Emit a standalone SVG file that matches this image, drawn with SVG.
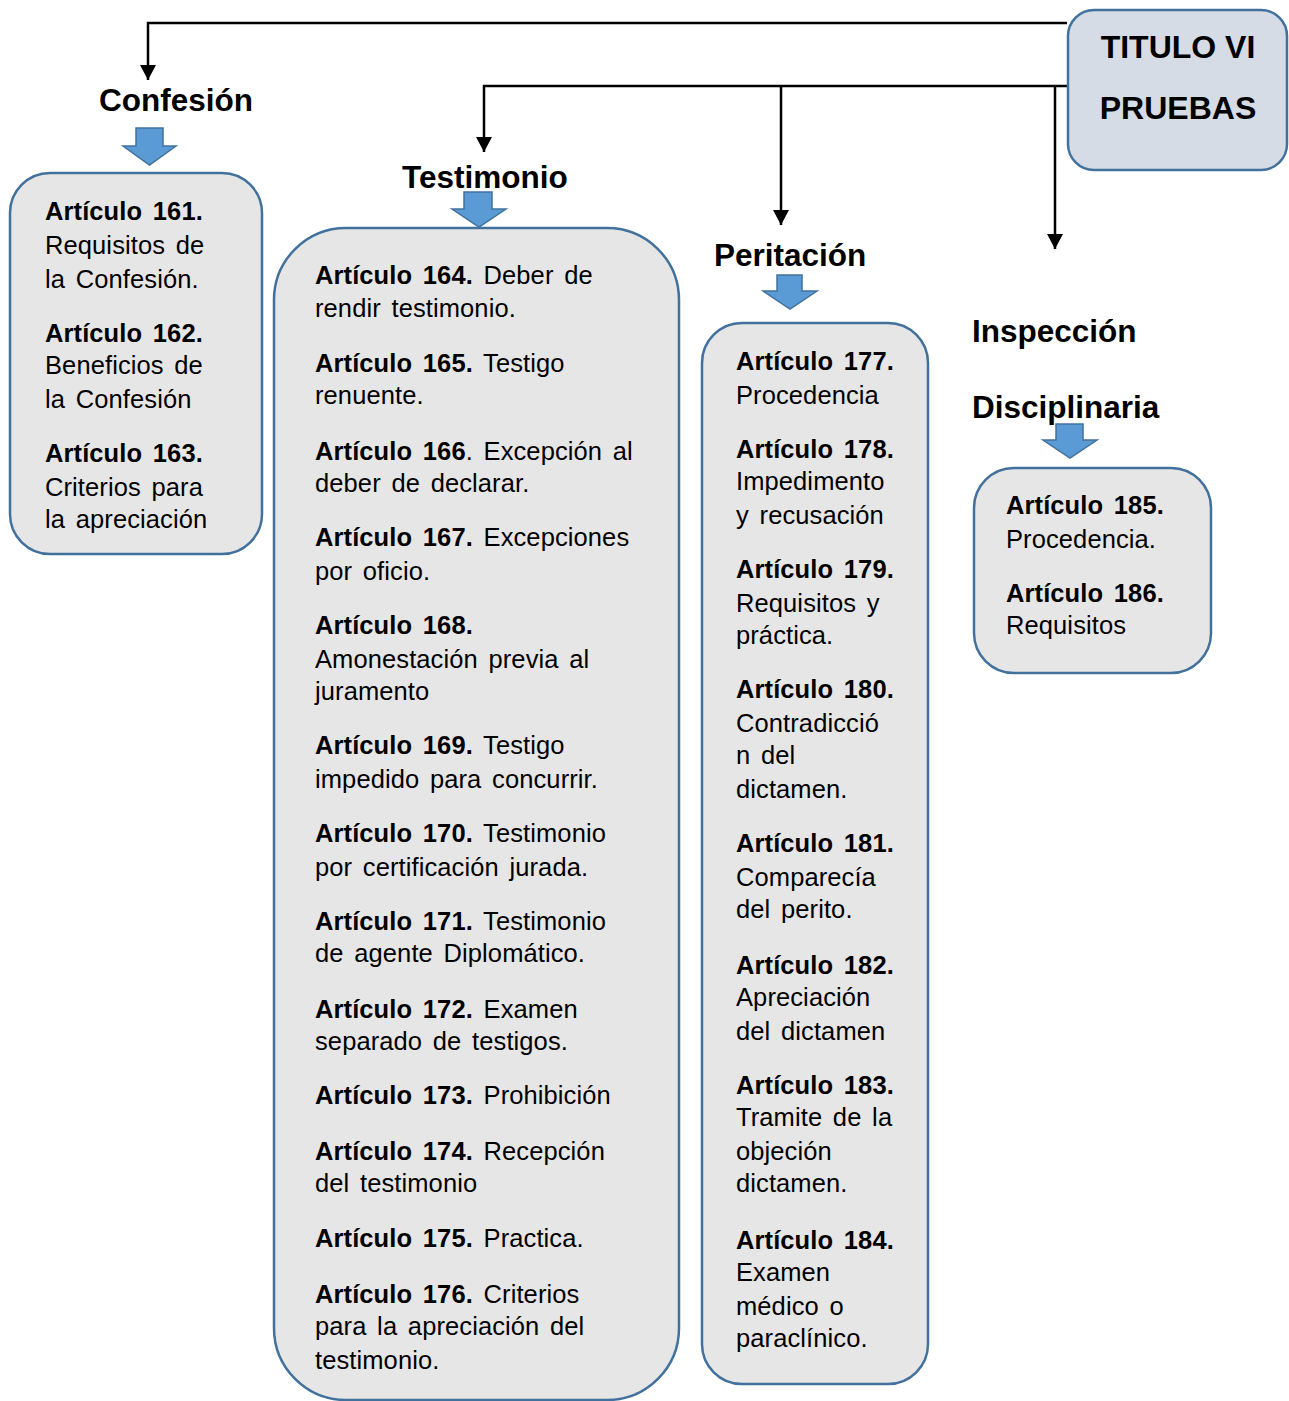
<svg xmlns="http://www.w3.org/2000/svg" width="1289" height="1401" viewBox="0 0 1289 1401">
<style>
text{font-family:"Liberation Sans",Arial,sans-serif;fill:#000}
.b{font-weight:bold}
.h{font-size:31.5px;font-weight:bold}
.t{font-size:25.5px;word-spacing:3.5px;letter-spacing:0.1px}
.box{fill:#e7e6e6;stroke:#41719c;stroke-width:2.5}
.title{fill:#d6dce5;stroke:#41719c;stroke-width:2.5}
.ba{fill:#5b9bd5;stroke:#41719c;stroke-width:1.5}
.con{fill:none;stroke:#000;stroke-width:2.5}
</style>
<defs>
<marker id="ah" markerUnits="userSpaceOnUse" markerWidth="16" markerHeight="16" refX="15" refY="8" orient="auto">
<path d="M0,0 L15,8 L0,16 z" fill="#000"/>
</marker>
</defs>
<rect width="1289" height="1401" fill="#fff"/>
<g id="connectors">
<path class="con" d="M1067,23 H148 V80" marker-end="url(#ah)"/>
<path class="con" d="M1067,86 H484 V152" marker-end="url(#ah)"/>
<path class="con" d="M781,86 V225" marker-end="url(#ah)"/>
<path class="con" d="M1055,86 V249" marker-end="url(#ah)"/>
</g>
<g id="titulo">
<rect class="title" x="1068" y="10" width="219" height="160" rx="26"/>
<text class="h" x="1178" y="58" text-anchor="middle" style="font-size:32px">TITULO VI</text>
<text class="h" x="1178" y="119" text-anchor="middle" style="font-size:32px">PRUEBAS</text>
</g>
<g id="confesion">
<text class="h" x="99" y="111">Confesión</text>
<path class="ba" d="M136,128 H163 V146 H176 L149.5,165 L123,146 H136 Z"/>
<rect class="box" x="10" y="173" width="252" height="381" rx="40"/>
<text class="t" x="45" y="220"><tspan class="b">Artículo 161.</tspan></text>
<text class="t" x="45" y="254">Requisitos de</text>
<text class="t" x="45" y="288">la Confesión.</text>
<text class="t" x="45" y="342"><tspan class="b">Artículo 162.</tspan></text>
<text class="t" x="45" y="374">Beneficios de</text>
<text class="t" x="45" y="408">la Confesión</text>
<text class="t" x="45" y="462"><tspan class="b">Artículo 163.</tspan></text>
<text class="t" x="45" y="496">Criterios para</text>
<text class="t" x="45" y="528">la apreciación</text>
</g>
<g id="testimonio">
<text class="h" x="402" y="188">Testimonio</text>
<path class="ba" d="M464,192 H492 V209 H506 L479,227 L452,209 H464 Z"/>
<rect class="box" x="274" y="228" width="405" height="1172" rx="72"/>
<text class="t" x="315" y="284"><tspan class="b">Artículo 164.</tspan> Deber de</text>
<text class="t" x="315" y="317">rendir testimonio.</text>
<text class="t" x="315" y="372"><tspan class="b">Artículo 165.</tspan> Testigo</text>
<text class="t" x="315" y="404">renuente.</text>
<text class="t" x="315" y="460"><tspan class="b">Artículo 166</tspan>. Excepción al</text>
<text class="t" x="315" y="492">deber de declarar.</text>
<text class="t" x="315" y="546"><tspan class="b">Artículo 167.</tspan> Excepciones</text>
<text class="t" x="315" y="580">por oficio.</text>
<text class="t" x="315" y="634"><tspan class="b">Artículo 168.</tspan></text>
<text class="t" x="315" y="668">Amonestación previa al</text>
<text class="t" x="315" y="700">juramento</text>
<text class="t" x="315" y="754"><tspan class="b">Artículo 169.</tspan> Testigo</text>
<text class="t" x="315" y="788">impedido para concurrir.</text>
<text class="t" x="315" y="842"><tspan class="b">Artículo 170.</tspan> Testimonio</text>
<text class="t" x="315" y="876">por certificación jurada.</text>
<text class="t" x="315" y="930"><tspan class="b">Artículo 171.</tspan> Testimonio</text>
<text class="t" x="315" y="962">de agente Diplomático.</text>
<text class="t" x="315" y="1018"><tspan class="b">Artículo 172.</tspan> Examen</text>
<text class="t" x="315" y="1050">separado de testigos.</text>
<text class="t" x="315" y="1104"><tspan class="b">Artículo 173.</tspan> Prohibición</text>
<text class="t" x="315" y="1160"><tspan class="b">Artículo 174.</tspan> Recepción</text>
<text class="t" x="315" y="1192">del testimonio</text>
<text class="t" x="315" y="1247"><tspan class="b">Artículo 175.</tspan> Practica.</text>
<text class="t" x="315" y="1303"><tspan class="b">Artículo 176.</tspan> Criterios</text>
<text class="t" x="315" y="1335">para la apreciación del</text>
<text class="t" x="315" y="1369">testimonio.</text>
</g>
<g id="peritacion">
<text class="h" x="714" y="266">Peritación</text>
<path class="ba" d="M777,275 H802 V291 H817 L790,309 L763,291 H777 Z"/>
<rect class="box" x="702" y="323" width="226" height="1061" rx="40"/>
<text class="t" x="736" y="370"><tspan class="b">Artículo 177.</tspan></text>
<text class="t" x="736" y="404">Procedencia</text>
<text class="t" x="736" y="458"><tspan class="b">Artículo 178.</tspan></text>
<text class="t" x="736" y="490">Impedimento</text>
<text class="t" x="736" y="524">y recusación</text>
<text class="t" x="736" y="578"><tspan class="b">Artículo 179.</tspan></text>
<text class="t" x="736" y="612">Requisitos y</text>
<text class="t" x="736" y="644">práctica.</text>
<text class="t" x="736" y="698"><tspan class="b">Artículo 180.</tspan></text>
<text class="t" x="736" y="732">Contradicció</text>
<text class="t" x="736" y="764">n del</text>
<text class="t" x="736" y="798">dictamen.</text>
<text class="t" x="736" y="852"><tspan class="b">Artículo 181.</tspan></text>
<text class="t" x="736" y="886">Comparecía</text>
<text class="t" x="736" y="918">del perito.</text>
<text class="t" x="736" y="974"><tspan class="b">Artículo 182.</tspan></text>
<text class="t" x="736" y="1006">Apreciación</text>
<text class="t" x="736" y="1040">del dictamen</text>
<text class="t" x="736" y="1094"><tspan class="b">Artículo 183.</tspan></text>
<text class="t" x="736" y="1126">Tramite de la</text>
<text class="t" x="736" y="1160">objeción</text>
<text class="t" x="736" y="1192">dictamen.</text>
<text class="t" x="736" y="1249"><tspan class="b">Artículo 184.</tspan></text>
<text class="t" x="736" y="1281">Examen</text>
<text class="t" x="736" y="1315">médico o</text>
<text class="t" x="736" y="1347">paraclínico.</text>
</g>
<g id="inspeccion">
<text class="h" x="972" y="342">Inspección</text>
<text class="h" x="972" y="418">Disciplinaria</text>
<path class="ba" d="M1056,424 H1083 V440 H1097 L1070,458 L1043,440 H1056 Z"/>
<rect class="box" x="974" y="468" width="237" height="205" rx="40"/>
<text class="t" x="1006" y="514"><tspan class="b">Artículo 185.</tspan></text>
<text class="t" x="1006" y="548">Procedencia.</text>
<text class="t" x="1006" y="602"><tspan class="b">Artículo 186.</tspan></text>
<text class="t" x="1006" y="634">Requisitos</text>
</g>
</svg>
